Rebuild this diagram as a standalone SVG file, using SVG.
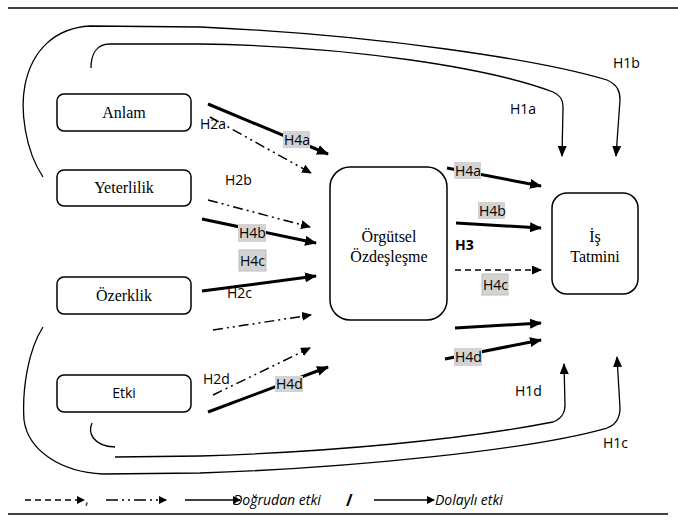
<svg xmlns="http://www.w3.org/2000/svg" width="678" height="520" viewBox="0 0 678 520">
<style>
.box{fill:#fff;stroke:#000;stroke-width:1.5}
.serif{font-family:"Liberation Serif","Times New Roman",serif;font-size:16px;text-anchor:middle;fill:#000}
.lbl{font-family:"Open Sans","Liberation Sans",sans-serif;font-size:14px;fill:#000}
.hl{fill:#d3d3d3}
.hlb{fill:#d3d3d3;stroke:#bdbdbd;stroke-width:1}
.thick{stroke:#000;stroke-width:3;fill:none;marker-end:url(#ah)}
.dd{stroke:#000;stroke-width:1.5;fill:none;stroke-dasharray:10 4 2 4 2 4;marker-end:url(#ahs)}
.ds{stroke:#000;stroke-width:1.5;fill:none;stroke-dasharray:6 4;marker-end:url(#ahs)}
.curve{stroke:#000;stroke-width:1.3;fill:none}
.carr{stroke:#000;stroke-width:1.3;fill:none;marker-end:url(#ahc)}
.leg{font-family:"Open Sans","Liberation Sans",sans-serif;font-size:14px;font-style:italic;fill:#000}
</style>
<defs>
<marker id="ah" viewBox="0 0 12 10" refX="11" refY="5" markerWidth="12" markerHeight="10" markerUnits="userSpaceOnUse" orient="auto"><path d="M0,0 L12,5 L0,10 z" fill="#000"/></marker>
<marker id="ahs" viewBox="0 0 10 9" refX="9" refY="4.5" markerWidth="10" markerHeight="9" markerUnits="userSpaceOnUse" orient="auto"><path d="M0,0 L10,4.5 L0,9 z" fill="#000"/></marker>
<marker id="ahc" viewBox="0 0 11 9" refX="10" refY="4.5" markerWidth="11" markerHeight="9" markerUnits="userSpaceOnUse" orient="auto"><path d="M0,0 L11,4.5 L0,9 z" fill="#000"/></marker>
<marker id="ahl" viewBox="0 0 8 8" refX="7" refY="4" markerWidth="8" markerHeight="8" markerUnits="userSpaceOnUse" orient="auto"><path d="M0,0 L8,4 L0,8 z" fill="#000"/></marker>
</defs>

<line x1="8" y1="8" x2="678" y2="8" stroke="#000" stroke-width="1.5"/>
<line x1="8" y1="514" x2="668" y2="514" stroke="#000" stroke-width="1.5"/>

<g id="connectors">
  <path class="carr" d="M91,68 C91,55 96,44 110,44 L200,44 C350,46 490,68 553,92 C561,96 563,100 563,108 L562,156"/>
  <path class="carr" d="M43,177 C25,150 20,110 25,85 C32,50 55,28 90,26 L200,27 C380,35 540,60 607,80 C618,85 620,92 620,100 L616,156"/>
  <path class="carr" d="M115,457 L200,456 C330,452 460,440 553,422 C563,418 565,412 565,405 L564,364"/>
  <path class="carr" d="M43,327 C28,350 22,390 24,420 C28,450 60,472 103,474 L200,473 C350,468 530,450 607,428 C618,424 620,416 620,408 L617,357"/>
  <path class="curve" d="M92,423 C88,432 92,446 115,447"/>

  <line class="thick" x1="208" y1="104" x2="328" y2="154"/>
  <line class="dd" x1="210" y1="117" x2="311" y2="173"/>
  <line class="dd" x1="208" y1="200" x2="310" y2="227"/>
  <line class="thick" x1="202" y1="219" x2="316" y2="243"/>
  <line class="thick" x1="202" y1="291" x2="316" y2="276"/>
  <line class="dd" x1="213" y1="330" x2="311" y2="315"/>
  <line class="dd" x1="213" y1="395" x2="310" y2="348"/>
  <line class="thick" x1="208" y1="412" x2="328" y2="367"/>

  <line class="thick" x1="447" y1="168" x2="541" y2="186"/>
  <line class="thick" x1="456" y1="223" x2="541" y2="228"/>
  <line class="ds" x1="455" y1="270" x2="541" y2="270"/>
  <line class="thick" x1="455" y1="328" x2="541" y2="323"/>
  <line class="thick" x1="445" y1="359" x2="541" y2="340"/>
</g>

<g id="labels">
  <text class="lbl" x="613" y="68">H1b</text>
  <text class="lbl" x="510" y="114">H1a</text>
  <text class="lbl" x="515" y="396">H1d</text>
  <text class="lbl" x="603" y="448">H1c</text>
  <text class="lbl" x="200" y="129">H2a</text>
  <text class="lbl" x="225" y="185">H2b</text>
  <text class="lbl" x="227" y="298">H2c</text>
  <text class="lbl" x="203" y="384">H2d</text>
  <text class="lbl" x="455" y="250" font-weight="bold" font-size="13">H3</text>

  <rect class="hl" x="283" y="131" width="27" height="17"/>
  <text class="lbl" x="284" y="145">H4a</text>
  <rect class="hl" x="238" y="224" width="28" height="18"/>
  <text class="lbl" x="239" y="238">H4b</text>
  <rect class="hlb" x="239" y="250" width="27" height="21"/>
  <text class="lbl" x="240" y="266">H4c</text>
  <rect class="hl" x="275" y="376" width="28" height="16"/>
  <text class="lbl" x="276" y="389">H4d</text>

  <rect class="hl" x="454" y="162" width="27" height="17"/>
  <text class="lbl" x="455" y="176">H4a</text>
  <rect class="hl" x="478" y="202" width="27" height="17"/>
  <text class="lbl" x="479" y="216">H4b</text>
  <rect class="hlb" x="482" y="274" width="26" height="21"/>
  <text class="lbl" x="483" y="290">H4c</text>
  <rect class="hl" x="454" y="348" width="28" height="18"/>
  <text class="lbl" x="455" y="362">H4d</text>
</g>

<g id="anlam">
  <rect class="box" x="57" y="94" width="134" height="37" rx="7"/>
  <text class="serif" x="124" y="118">Anlam</text>
</g>
<g id="yeterlilik">
  <rect class="box" x="57" y="170" width="134" height="36" rx="7"/>
  <text class="serif" x="124" y="193">Yeterlilik</text>
</g>
<g id="ozerklik">
  <rect class="box" x="57" y="277" width="134" height="37" rx="7"/>
  <text class="serif" x="124" y="301">Özerklik</text>
</g>
<g id="etki">
  <rect class="box" x="57" y="375" width="134" height="37" rx="7"/>
  <text class="lbl" x="124" y="398" text-anchor="middle">Etki</text>
</g>
<g id="orgutsel">
  <rect class="box" x="330" y="167" width="117" height="153" rx="20"/>
  <text class="serif" x="389" y="242">Örgütsel</text>
  <text class="serif" x="389" y="262">Özdeşleşme</text>
</g>
<g id="istatmini">
  <rect class="box" x="552" y="193" width="86" height="101" rx="15"/>
  <text class="serif" x="595" y="242">İş</text>
  <text class="serif" x="595" y="262">Tatmini</text>
</g>

<g id="legend">
  <line x1="25" y1="500" x2="84" y2="500" stroke="#000" stroke-width="1.5" stroke-dasharray="6 4" marker-end="url(#ahl)"/>
  <text class="lbl" x="85" y="504">,</text>
  <line x1="106" y1="500" x2="166" y2="500" stroke="#000" stroke-width="1.5" stroke-dasharray="12 4 2 4 2 4" marker-end="url(#ahl)"/>
  <line x1="185" y1="500" x2="240" y2="500" stroke="#000" stroke-width="1.5" marker-end="url(#ahl)"/>
  <text class="leg" x="233" y="505">Doğrudan etki</text>
  <text x="346" y="506" font-family="Open Sans, Liberation Sans, sans-serif" font-size="16" font-weight="bold">/</text>
  <line x1="374" y1="500" x2="434" y2="500" stroke="#000" stroke-width="1.5" marker-end="url(#ahl)"/>
  <text class="leg" x="435" y="505">Dolaylı etki</text>
</g>
</svg>
